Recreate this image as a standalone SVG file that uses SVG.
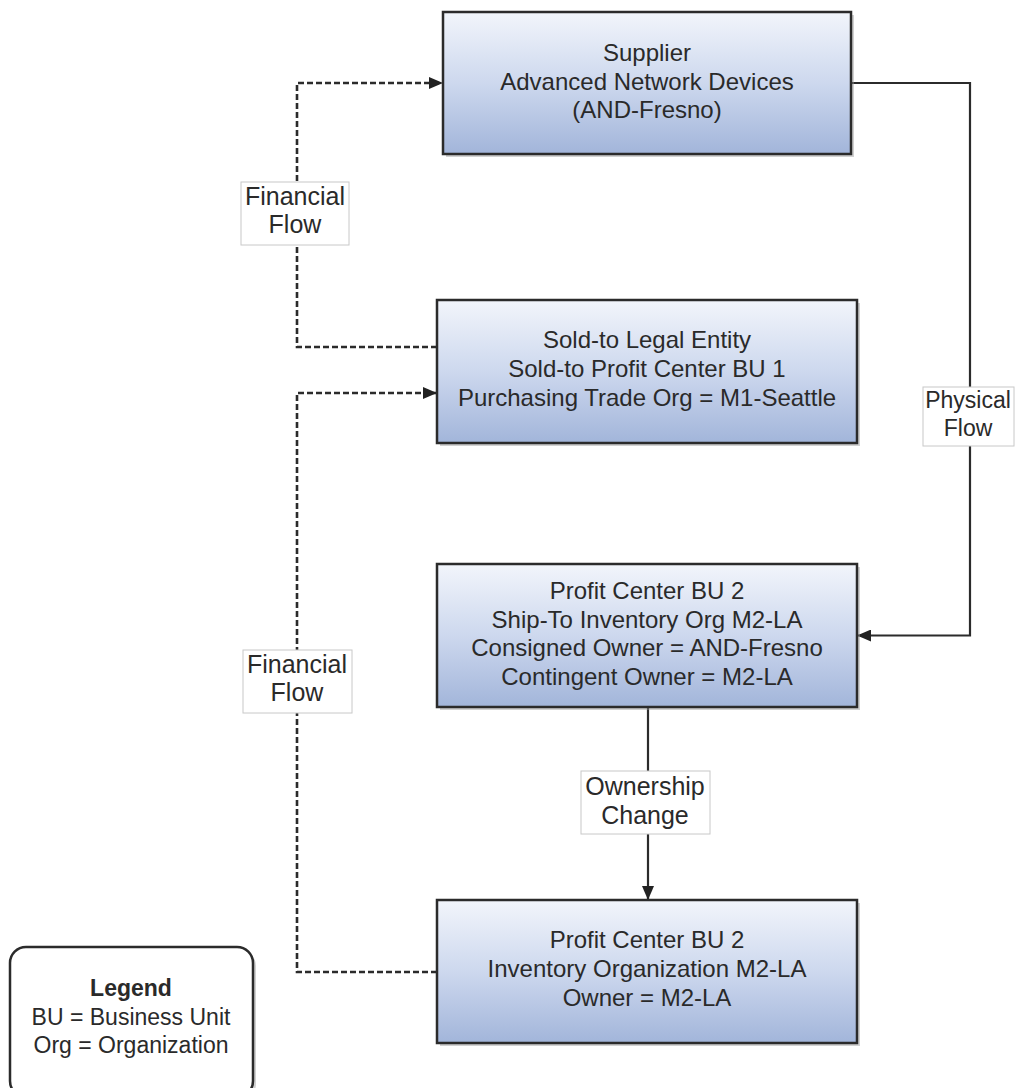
<svg xmlns="http://www.w3.org/2000/svg" width="1015" height="1088" viewBox="0 0 1015 1088">
<defs>
<linearGradient id="nodeGrad" x1="0" y1="0" x2="0" y2="1">
<stop offset="0" stop-color="#f2f5fb"/>
<stop offset="0.5" stop-color="#cdd8ee"/>
<stop offset="1" stop-color="#a2b5da"/>
</linearGradient>
<marker id="arrow" viewBox="0 0 14 12" refX="14" refY="6" markerWidth="14" markerHeight="12" markerUnits="userSpaceOnUse" orient="auto">
<path d="M0,0 L14,6 L0,12 z" fill="#222"/>
</marker>
<style>
.node{fill:url(#nodeGrad);stroke:#2b2b2b;stroke-width:2.5}
.shadow{fill:#9a9a9a;opacity:0.45}
.ntext{font-family:"Liberation Sans",Arial,sans-serif;font-size:24px;fill:#2a2a2a;text-anchor:middle}
.ltext{font-family:"Liberation Sans",Arial,sans-serif;font-size:25px;fill:#2a2a2a;text-anchor:middle}
.lbox{fill:#ffffff;stroke:#c8c8c8;stroke-width:1}
.solid{fill:none;stroke:#2b2b2b;stroke-width:2.2}
.dash{fill:none;stroke:#2b2b2b;stroke-width:2.6;stroke-dasharray:6,3}
</style>
</defs>
<rect width="1015" height="1088" fill="#ffffff"/>

<g id="connectors">
<path class="dash" d="M437,347 H297 V83 H443" marker-end="url(#arrow)"/>
<path class="dash" d="M437,972 H297 V393 H437" marker-end="url(#arrow)"/>
<path class="solid" d="M851,83 H970 V635.5 H857" marker-end="url(#arrow)"/>
<path class="solid" d="M648,707 V900" marker-end="url(#arrow)"/>
<g id="label-financial-1">
<rect class="lbox" x="241" y="182" width="108" height="63"/>
<text class="ltext" x="295" y="205">Financial</text>
<text class="ltext" x="295" y="233">Flow</text>
</g>
<g id="label-financial-2">
<rect class="lbox" x="243" y="650" width="109" height="63"/>
<text class="ltext" x="297" y="673">Financial</text>
<text class="ltext" x="297" y="701">Flow</text>
</g>
<g id="label-physical">
<rect class="lbox" x="923" y="387" width="91" height="59"/>
<text class="ltext" x="968" y="408" style="font-size:23px">Physical</text>
<text class="ltext" x="968" y="436" style="font-size:23px">Flow</text>
</g>
<g id="label-ownership">
<rect class="lbox" x="581" y="771" width="129" height="63"/>
<text class="ltext" x="645" y="795">Ownership</text>
<text class="ltext" x="645" y="824">Change</text>
</g>
</g>

<g id="node-supplier">
<rect class="shadow" x="446" y="15" width="408" height="142"/>
<rect class="node" x="443" y="12" width="408" height="142"/>
<text class="ntext" x="647" y="61">Supplier</text>
<text class="ntext" x="647" y="90">Advanced Network Devices</text>
<text class="ntext" x="647" y="118">(AND-Fresno)</text>
</g>

<g id="node-soldto">
<rect class="shadow" x="440" y="303" width="420" height="143"/>
<rect class="node" x="437" y="300" width="420" height="143"/>
<text class="ntext" x="647" y="348">Sold-to Legal Entity</text>
<text class="ntext" x="647" y="377">Sold-to Profit Center BU 1</text>
<text class="ntext" x="647" y="406">Purchasing Trade Org = M1-Seattle</text>
</g>

<g id="node-shipto">
<rect class="shadow" x="440" y="567" width="420" height="143"/>
<rect class="node" x="437" y="564" width="420" height="143"/>
<text class="ntext" x="647" y="599">Profit Center BU 2</text>
<text class="ntext" x="647" y="627.5">Ship-To Inventory Org M2-LA</text>
<text class="ntext" x="647" y="656">Consigned Owner = AND-Fresno</text>
<text class="ntext" x="647" y="684.5">Contingent Owner = M2-LA</text>
</g>

<g id="node-inventory">
<rect class="shadow" x="440" y="903" width="420" height="143"/>
<rect class="node" x="437" y="900" width="420" height="143"/>
<text class="ntext" x="647" y="948">Profit Center BU 2</text>
<text class="ntext" x="647" y="977">Inventory Organization M2-LA</text>
<text class="ntext" x="647" y="1006">Owner = M2-LA</text>
</g>

<g id="legend">
<rect class="shadow" x="13" y="950" width="243" height="150" rx="16"/>
<rect x="10" y="947" width="243" height="150" rx="16" fill="#ffffff" stroke="#2b2b2b" stroke-width="2.5"/>
<text class="ntext" x="131" y="996" style="font-size:23px;font-weight:bold">Legend</text>
<text class="ntext" x="131" y="1025" style="font-size:23px">BU = Business Unit</text>
<text class="ntext" x="131" y="1053" style="font-size:23px">Org = Organization</text>
</g>
</svg>
